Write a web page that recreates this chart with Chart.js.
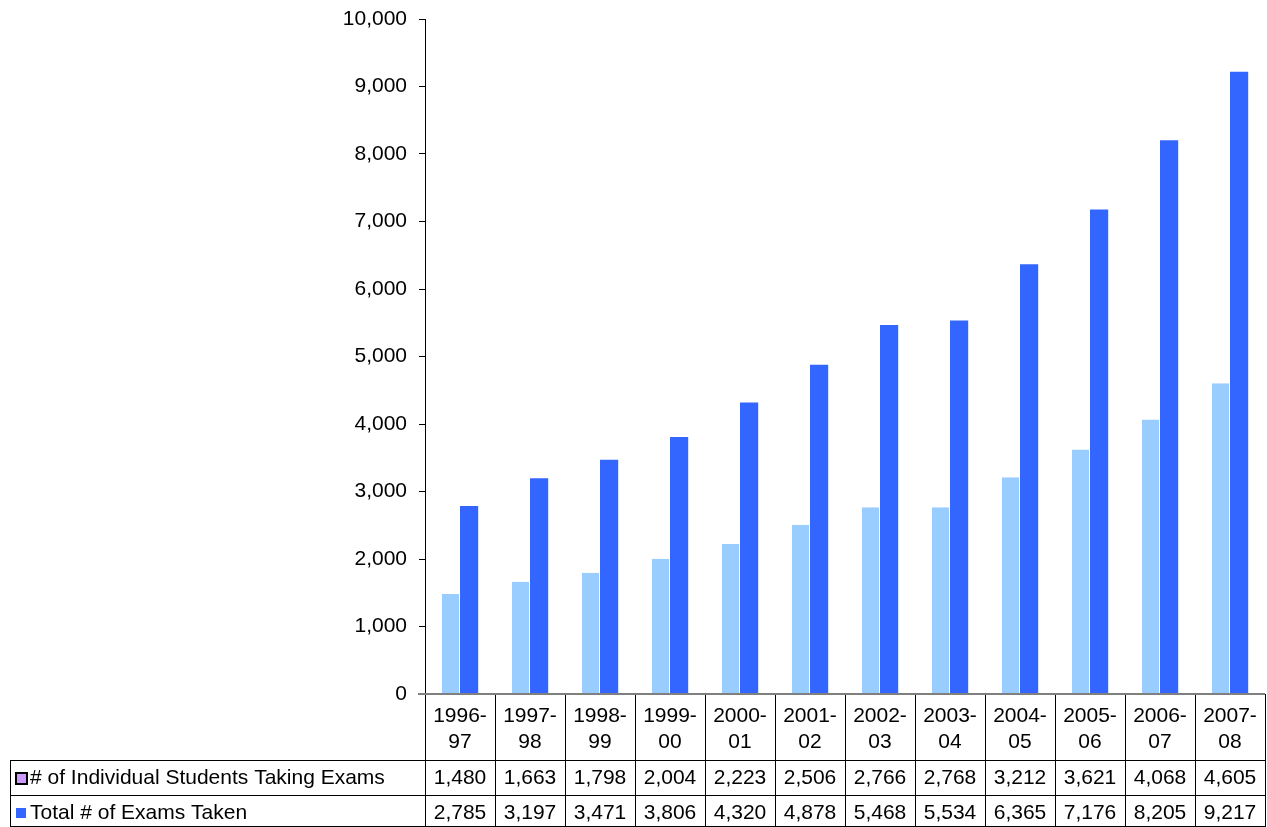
<!DOCTYPE html>
<html>
<head>
<meta charset="utf-8">
<script src="https://cdn.jsdelivr.net/npm/chart.js@4"></script>
<style>
  body { margin: 0; background: #fff; }
  #wrap { width: 1267px; height: 827px; }
</style>
</head>
<body>
<div id="wrap"><canvas id="chart" width="1267" height="827"></canvas></div>
<script>
const years = ['1996-97', '1997-98', '1998-99', '1999-00', '2000-01', '2001-02',
  '2002-03', '2003-04', '2004-05', '2005-06', '2006-07', '2007-08'];
const students = [1480, 1663, 1798, 2004, 2223, 2506, 2766, 2768, 3212, 3621, 4068, 4605];
const exams = [2785, 3197, 3471, 3806, 4320, 4878, 5468, 5534, 6365, 7176, 8205, 9217];
const seriesNames = ['# of Individual Students Taking Exams', 'Total # of Exams Taken'];

const FONT = '21px "Liberation Sans", Arial, sans-serif';
const fmt = v => v.toLocaleString('en-US');

// draws the data table under the plot, using the x scale for the columns
const dataTable = {
  id: 'dataTable',
  afterDraw(chart) {
    const ctx = chart.ctx;
    const x = chart.scales.x;
    const area = chart.chartArea;
    const top = area.bottom;
    const row1 = top + 66, row2 = row1 + 35, bottom = chart.height - 1;
    const half = (x.getPixelForValue(1) - x.getPixelForValue(0)) / 2;
    const right = x.getPixelForValue(years.length - 1) + half;

    ctx.save();
    ctx.strokeStyle = '#000';
    ctx.lineWidth = 1;
    ctx.beginPath();
    for (let i = 0; i <= years.length; i++) {
      const px = Math.round(x.getPixelForValue(i) - half) + 0.5;
      ctx.moveTo(px, top);
      ctx.lineTo(px, bottom);
    }
    ctx.moveTo(10.5, row1); ctx.lineTo(10.5, bottom);
    [row1, row2, bottom].forEach(y => {
      ctx.moveTo(10, y + 0.5);
      ctx.lineTo(right + 1, y + 0.5);
    });
    ctx.stroke();

    // category axis line
    ctx.strokeStyle = '#808080';
    ctx.lineWidth = 2;
    ctx.beginPath();
    ctx.moveTo(area.left - 7, top);
    ctx.lineTo(right, top);
    ctx.stroke();

    ctx.fillStyle = '#000';
    ctx.font = FONT;
    ctx.textAlign = 'center';
    ctx.textBaseline = 'middle';
    years.forEach((yr, i) => {
      const cx = x.getPixelForValue(i);
      const parts = yr.split('-');
      ctx.fillText(parts[0] + '-', cx, top + 22);
      ctx.fillText(parts[1], cx, top + 48);
      ctx.fillText(fmt(students[i]), cx, row1 + 18);
      ctx.fillText(fmt(exams[i]), cx, row2 + 18);
    });

    // row labels with legend keys
    ctx.textAlign = 'left';
    ctx.fillText(seriesNames[0], 30, row1 + 18);
    ctx.fillText(seriesNames[1], 30, row2 + 18);
    ctx.fillStyle = '#CC99FF';
    ctx.fillRect(16, row1 + 13, 11, 11);
    ctx.strokeStyle = '#000';
    ctx.lineWidth = 2;
    ctx.strokeRect(16, row1 + 13, 11, 11);
    ctx.fillStyle = '#3366FF';
    ctx.fillRect(16, row2 + 13, 10, 10);
    ctx.restore();
  }
};

new Chart(document.getElementById('chart'), {
  type: 'bar',
  data: {
    labels: years,
    datasets: [
      { label: seriesNames[0], data: students, backgroundColor: '#99CCFF',
        borderColor: '#FFFFFF', borderWidth: { right: 1 } },
      { label: seriesNames[1], data: exams, backgroundColor: '#3366FF' }
    ]
  },
  options: {
    responsive: false,
    animation: false,
    categoryPercentage: 0.52,
    barPercentage: 1.0,
    layout: { padding: { top: 19, bottom: 133, left: 0, right: 2 } },
    plugins: { legend: { display: false }, tooltip: { enabled: false } },
    scales: {
      x: { display: false },
      y: {
        min: 0, max: 10000,
        ticks: { stepSize: 1000, color: '#000', padding: 12,
          font: { family: '"Liberation Sans", Arial, sans-serif', size: 21 },
          callback: v => fmt(v) },
        grid: { drawOnChartArea: false, tickLength: 6, color: '#000' },
        border: { color: '#000', width: 1 },
        afterFit: s => { s.width = 425; s.paddingTop = 0; s.paddingBottom = 0; }
      }
    }
  },
  plugins: [dataTable]
});
</script>
</body>
</html>
